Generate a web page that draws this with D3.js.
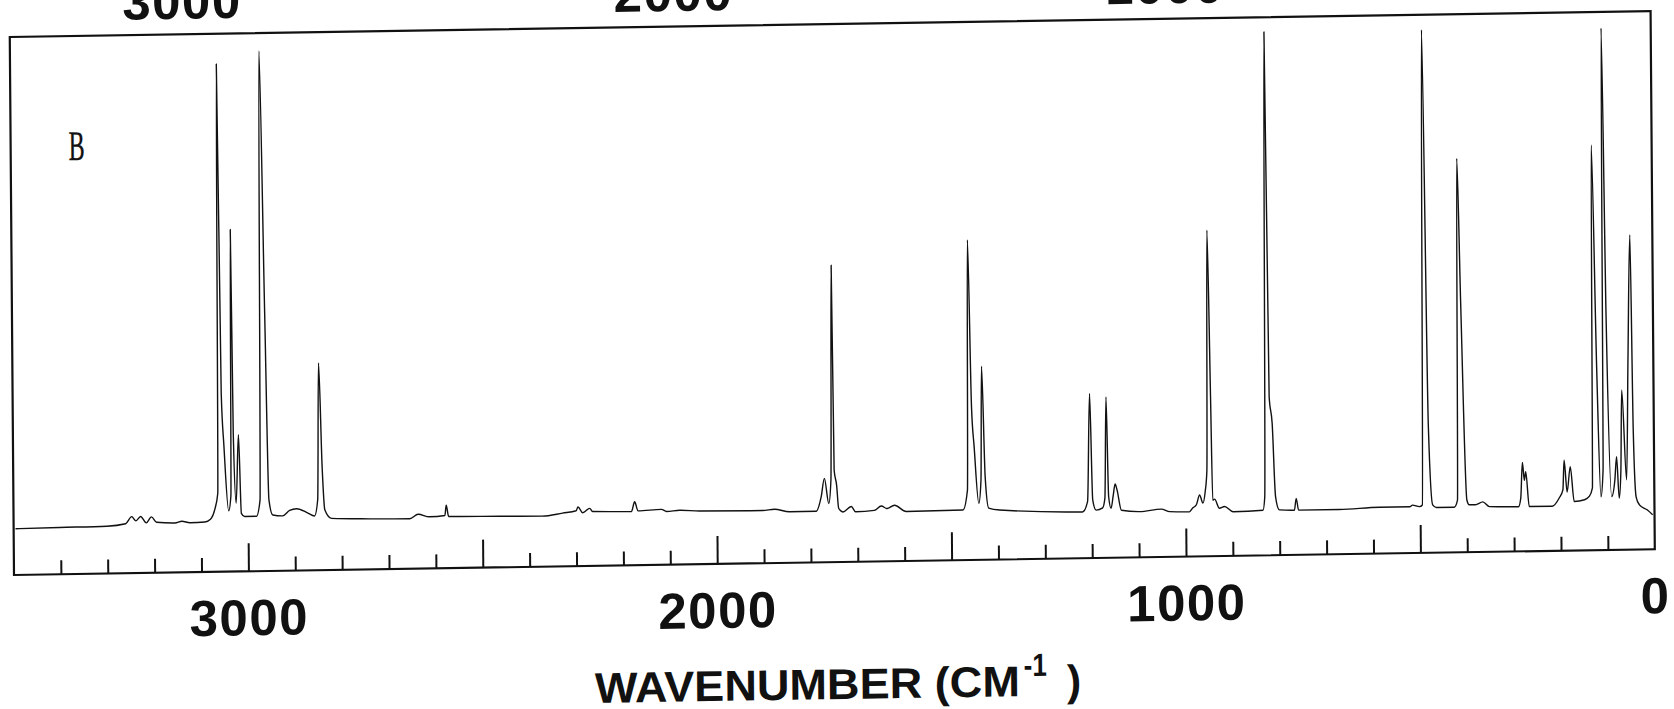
<!DOCTYPE html>
<html>
<head>
<meta charset="utf-8">
<script src="https://cdn.jsdelivr.net/npm/d3@7"></script>
<style>
    html, body { margin: 0; padding: 0; background: #fff; }
    svg { display: block; }
</style>
</head>
<body>
<svg id="chart" width="1674" height="709"></svg>
<script>
"use strict";

// Raman spectrum, panel B -- points are [wavenumber (cm-1), relative intensity (%)]
const chStretchRegion = [
    [3496, 8.6], [3402, 8.7], [3301, 8.8], [3261, 9.2], [3248, 10.5], [3239, 9.7], [3229, 10.5],
    [3217, 9.3], [3206, 10.4], [3195, 9.4], [3156, 9.2], [3141, 9.5], [3124, 9.2], [3092, 9.3],
    [3080, 9.8], [3071, 11.5], [3064, 14.6], [3060, 94.4], [3055, 33.2], [3050, 23.2], [3041, 11.3],
    [3036, 14.2], [3033, 63.6], [3030, 25.8], [3025, 12.7], [3019, 25.4], [3014, 10.8], [3007, 10.2],
    [2982, 10.2], [2974, 13.2], [2969, 96.7], [2961, 48.0], [2955, 13.2], [2947, 10.4], [2926, 10.2],
    [2911, 11.2], [2896, 11.5], [2873, 10.7], [2858, 10.1], [2851, 13.1], [2847, 38.5], [2841, 19.2],
    [2836, 11.2], [2822, 9.6]
];
const midRegion = [
    [2740, 9.4], [2655, 9.3], [2637, 10.1], [2613, 9.6], [2580, 9.8], [2577, 11.7], [2572, 9.6],
    [2463, 9.5], [2372, 9.4], [2329, 9.9], [2300, 10.3], [2296, 11.0], [2286, 9.9], [2271, 10.7],
    [2265, 10.1], [2182, 10.0], [2175, 11.8], [2168, 10.1], [2118, 10.3], [2107, 9.9], [2079, 10.1],
    [2037, 9.9], [1902, 9.8], [1877, 10.0], [1845, 9.5], [1788, 9.5], [1777, 12.2], [1770, 15.6],
    [1761, 10.9], [1756, 15.3], [1752, 55.2], [1749, 17.1], [1744, 14.3], [1740, 10.0], [1731, 9.3],
    [1713, 10.3], [1704, 9.3], [1664, 9.5], [1649, 10.3], [1637, 9.8], [1621, 10.4], [1596, 9.2],
    [1475, 9.3], [1465, 13.0], [1461, 59.5], [1455, 28.5], [1450, 21.0], [1441, 10.5], [1436, 14.8],
    [1433, 36.0], [1427, 15.4], [1420, 9.6], [1397, 9.2]
];
const fingerprintRegion = [
    [1220, 8.6], [1209, 10.5], [1203, 30.6], [1198, 10.8], [1191, 8.9], [1177, 9.3], [1172, 11.1],
    [1168, 29.9], [1164, 11.4], [1159, 9.2], [1154, 11.7], [1150, 13.7], [1146, 12.6], [1137, 8.8],
    [1098, 8.5], [1052, 8.9], [1034, 8.4], [992, 8.3], [985, 9.0], [977, 9.6], [970, 11.4],
    [963, 9.9], [958, 12.0], [954, 16.0], [950, 60.6], [945, 29.6], [942, 10.4], [938, 10.6],
    [928, 8.9], [917, 9.2], [899, 8.2], [835, 8.4], [831, 10.9], [825, 97.3], [820, 29.5],
    [814, 24.5], [808, 10.9], [800, 8.4], [768, 8.3], [764, 10.5], [759, 8.3], [672, 8.3],
    [586, 8.6], [522, 8.6], [516, 8.9], [501, 8.6], [495, 8.9], [489, 97.2], [481, 23.8],
    [473, 8.9], [465, 8.4]
];
const latticeRegion = [
    [427, 8.4], [420, 9.7], [416, 73.2], [410, 46.6], [400, 9.7], [395, 8.8], [382, 8.8],
    [366, 9.3], [352, 8.4], [290, 8.3], [285, 9.9], [281, 16.5], [277, 13.2], [274, 14.8],
    [267, 8.3], [218, 8.3], [203, 9.8], [195, 11.3], [192, 16.8], [186, 10.9], [179, 15.6],
    [171, 9.1], [149, 9.4], [139, 10.0], [132, 11.6], [129, 75.3], [121, 34.1], [114, 9.9],
    [109, 14.9], [106, 97.0], [100, 43.1], [91, 9.9], [84, 13.0], [80, 17.3], [75, 9.6],
    [71, 14.8], [68, 29.7], [59, 13.0], [54, 35.6], [48, 58.5], [44, 22.2], [39, 9.8],
    [32, 8.3], [15, 7.3], [4, 6.4]
];

const minorTicks = [3400, 3300, 3200, 3100, 2900, 2800, 2700, 2600, 2400, 2300, 2200, 2100,
                    1900, 1800, 1700, 1600, 1400, 1300, 1200, 1100, 900, 800, 700, 600,
                    400, 300, 200, 100];
const majorTicks = [3000, 2500, 2000, 1500, 1000, 500];
const tickLabels = [3000, 2000, 1000, 0];
// numbers of the panel above, cut off by the page edge as in the scan
const upperPanelLabels = [3000, 2000, 1000];
const panelLetter = "B";

const LEFT = 14, RIGHT = 1655, TOP = 37, BOTTOM = 575;
const INK = "#111";
const SANS = "'Liberation Sans', Arial, Helvetica, sans-serif";

let x = d3.scaleLinear().domain([3500, 0]).range([LEFT, RIGHT]);
let y = d3.scaleLinear().domain([0, 100]).range([BOTTOM, TOP]);
// the panel above uses its own (shifted) wavenumber scale
let xUpper = d3.scaleLinear().domain([3000, 1000]).range([186, 1169]);

let svg = d3.select("#chart");
svg.append("rect").attr("width", 1674).attr("height", 709).attr("fill", "#fff");

// the scanned page is a little tilted
let g = svg.append("g")
    .attr("transform", `translate(${LEFT},${BOTTOM}) rotate(-0.9) skewX(-0.45) translate(${-LEFT},${-BOTTOM})`);

function drawTicks(values, size)
{
    let axis = g.append("g")
        .attr("transform", `translate(0,${BOTTOM})`)
        .call(d3.axisBottom(x).tickValues(values).tickSize(-size).tickFormat(""));
    axis.select(".domain").remove();
    axis.selectAll("line").attr("stroke", INK).attr("stroke-width", 2);
}

function drawLabels(scale, values, baseline)
{
    let axis = g.append("g")
        .attr("transform", `translate(0,${BOTTOM})`)
        .call(d3.axisBottom(scale).tickValues(values).tickSize(0).tickFormat(d3.format("d")));
    axis.select(".domain").remove();
    axis.selectAll("text")
        .attr("y", baseline - BOTTOM)
        .attr("dy", 0)
        .attr("fill", INK)
        .attr("font-family", SANS)
        .attr("font-weight", "bold")
        .attr("font-size", 51)
        .attr("letter-spacing", "1.5px");
}

g.append("rect")
    .attr("x", LEFT).attr("y", TOP)
    .attr("width", RIGHT - LEFT).attr("height", BOTTOM - TOP)
    .attr("fill", "none").attr("stroke", INK).attr("stroke-width", 2.2);

drawTicks(minorTicks, 14);
drawTicks(majorTicks, 28);
drawLabels(x, tickLabels, 639);
drawLabels(xUpper, upperPanelLabels, 21.5);

let spectrum = chStretchRegion.concat(midRegion, fingerprintRegion, latticeRegion);
let line = d3.line()
    .x(d => x(d[0]))
    .y(d => y(d[1]))
    .curve(d3.curveMonotoneX);

g.append("path")
    .datum(spectrum)
    .attr("d", line)
    .attr("fill", "none")
    .attr("stroke", INK)
    .attr("stroke-width", 1.4)
    .attr("stroke-linejoin", "round");

g.append("text")
    .attr("x", 72).attr("y", 161)
    .attr("font-family", "'Liberation Serif', 'DejaVu Serif', serif")
    .attr("font-size", 42)
    .attr("textLength", 16)
    .attr("lengthAdjust", "spacingAndGlyphs")
    .attr("fill", INK)
    .attr("stroke", INK)
    .attr("stroke-width", 0.4)
    .text(panelLetter);

// axis title with superscript
let title = g.append("g")
    .attr("fill", INK)
    .attr("font-family", SANS)
    .attr("font-weight", "bold");
title.append("text")
    .attr("x", 594).attr("y", 712)
    .attr("font-size", 43)
    .attr("textLength", 425)
    .attr("lengthAdjust", "spacingAndGlyphs")
    .text("WAVENUMBER (CM");
title.append("text")
    .attr("x", 1023).attr("y", 692)
    .attr("font-size", 32)
    .attr("textLength", 23)
    .attr("lengthAdjust", "spacingAndGlyphs")
    .text("-1");
title.append("text")
    .attr("x", 1066).attr("y", 712)
    .attr("font-size", 43)
    .text(")");
</script>
</body>
</html>
